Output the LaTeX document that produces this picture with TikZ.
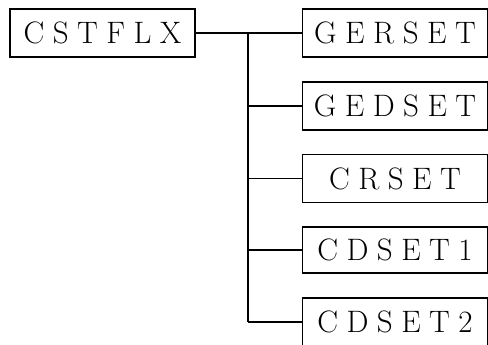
\documentclass[tikz,border=0pt]{standalone}
\usepackage{fontspec}
\newcommand{\lsp}{\hspace{8.5pt}}
\begin{document}
\begin{tikzpicture}[x=1pt,y=-1pt,
  box/.style={draw,line width=1.3pt,rectangle,minimum width=185pt,minimum height=48pt,inner sep=0pt,font=\fontsize{31}{31}\selectfont},
  link/.style={line width=1.3pt}]
\clip (0,0) rectangle (488,345);
\useasboundingbox (0,0) rectangle (488,345);
\node[box] (cst) at (102.5,33) {C\lsp S\lsp T\lsp F\lsp L\lsp X};
\node[box] (g1) at (395,33) {G\lsp E\lsp R\lsp S\lsp E\lsp T};
\node[box] (g2) at (395,106) {G\lsp E\lsp D\lsp S\lsp E\lsp T};
\node[box] (g3) at (395,178.5) {C\lsp R\lsp S\lsp E\lsp T};
\node[box,minimum height=46pt] (g4) at (395,250) {C\lsp D\lsp S\lsp E\lsp T\lsp 1};
\node[box] (g5) at (395,322) {C\lsp D\lsp S\lsp E\lsp T\lsp 2};
\coordinate (t1) at (248,33);
\coordinate (t5) at (248,322);
\draw[link] (cst.east) -- (g1.west);
\draw[link] (t1) -- (t5);
\draw[link] (g2.west) -- (g2.west -| t1);
\draw[link] (g3.west) -- (g3.west -| t1);
\draw[link] (g4.west) -- (g4.west -| t1);
\draw[link] (g5.west) -- (t5);
\end{tikzpicture}
\end{document}
